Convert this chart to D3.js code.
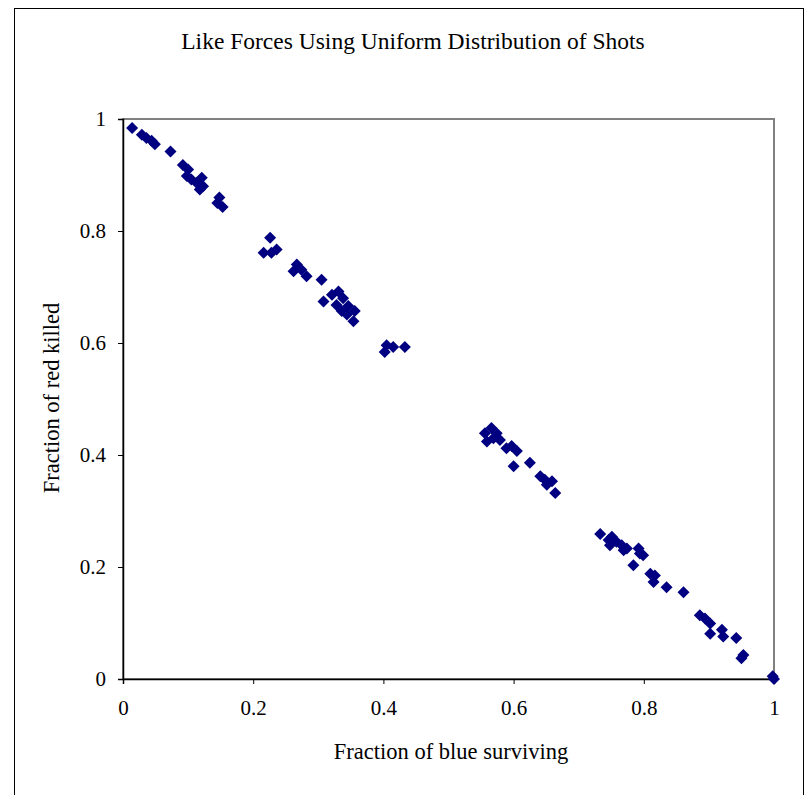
<!DOCTYPE html>
<html><head><meta charset="utf-8">
<script src="https://cdn.jsdelivr.net/npm/d3@7"></script>
<style>body{margin:0;background:#fff}svg text{font-family:"Liberation Serif","Times New Roman",serif}</style>
</head><body><svg id="c" width="804" height="795"></svg>
<script>
const title = "Like Forces Using Uniform Distribution of Shots";
const xLabel = "Fraction of blue surviving";
const yLabel = "Fraction of red killed";
const xTicks = [0, 0.2, 0.4, 0.6, 0.8, 1];
const yTicks = [0, 0.2, 0.4, 0.6, 0.8, 1];
const blueSurviving = [
  0.014, 0.029, 0.036, 0.044, 0.049, 0.073,
  0.092, 0.100, 0.098, 0.105, 0.113, 0.121, 0.123, 0.118,
  0.148, 0.145, 0.153,
  0.216, 0.226, 0.228, 0.236,
  0.267, 0.262, 0.274, 0.282, 0.305,
  0.308, 0.321, 0.331, 0.338, 0.328, 0.336, 0.344, 0.356, 0.354, 0.346,
  0.402, 0.405, 0.415, 0.433,
  0.556, 0.566, 0.574, 0.559, 0.569, 0.579, 0.589, 0.597, 0.605,
  0.600, 0.625, 0.641, 0.648, 0.659, 0.651, 0.664,
  0.733, 0.746, 0.751, 0.748, 0.758, 0.766, 0.774, 0.769,
  0.792, 0.799, 0.794, 0.784, 0.810, 0.817, 0.815, 0.835, 0.861,
  0.886, 0.894, 0.902, 0.902, 0.920, 0.922, 0.942, 0.953, 0.950,
  0.998, 1.000
];
const redKilled = [
  0.984, 0.972, 0.966, 0.961, 0.955, 0.942,
  0.918, 0.910, 0.898, 0.892, 0.886, 0.895, 0.880, 0.874,
  0.860, 0.850, 0.843,
  0.761, 0.788, 0.761, 0.767,
  0.740, 0.728, 0.731, 0.719, 0.713,
  0.674, 0.686, 0.692, 0.680, 0.668, 0.657, 0.651, 0.657, 0.639, 0.666,
  0.584, 0.596, 0.593, 0.593,
  0.439, 0.448, 0.439, 0.424, 0.430, 0.427, 0.412, 0.416, 0.407,
  0.380, 0.386, 0.362, 0.356, 0.353, 0.347, 0.332,
  0.259, 0.248, 0.254, 0.239, 0.245, 0.239, 0.233, 0.230,
  0.233, 0.221, 0.224, 0.203, 0.188, 0.185, 0.173, 0.164, 0.155,
  0.114, 0.108, 0.099, 0.081, 0.088, 0.076, 0.073, 0.043, 0.037,
  0.005, 0.000
];
const points = blueSurviving.map((v, i) => ({x: v, y: redKilled[i]}));

const svg = d3.select("#c");
// outer chart border
svg.append("rect").attr("x", 14.5).attr("y", 8.5).attr("width", 789).attr("height", 800)
  .attr("fill", "none").attr("stroke", "#000").attr("stroke-width", 1);

const L = 123, R = 774, T = 119, B = 679;
const x = d3.scaleLinear().domain([0, 1]).range([L, R]);
const y = d3.scaleLinear().domain([0, 1]).range([B, T]);

// plot area border (gray)
svg.append("rect").attr("x", L).attr("y", T).attr("width", R - L).attr("height", B - T)
  .attr("fill", "none").attr("stroke", "#808080").attr("stroke-width", 2);

const xAxis = svg.append("g").attr("transform", `translate(0,${B})`)
  .call(d3.axisBottom(x).tickValues(xTicks).tickFormat(d3.format("")).tickSize(5).tickPadding(16));
const yAxis = svg.append("g").attr("transform", `translate(${L},0)`)
  .call(d3.axisLeft(y).tickValues(yTicks).tickFormat(d3.format("")).tickSize(5).tickPadding(12));
[xAxis, yAxis].forEach(a => {
  a.select(".domain").attr("stroke", "#000").attr("stroke-width", 1.5);
  a.selectAll(".tick line").attr("stroke", "#000");
  a.selectAll(".tick text").attr("font-size", 21).attr("fill", "#000")
    .attr("font-family", "'Liberation Serif','Times New Roman',serif");
});

// markers: square diamonds
const r = 6;
const diamond = `M0,${-r}L${r},0L0,${r}L${-r},0Z`;
svg.append("g").selectAll("path").data(points).join("path")
  .attr("d", diamond)
  .attr("transform", d => `translate(${x(d.x)},${y(d.y)})`)
  .attr("fill", "#000080");

svg.append("text").attr("x", 413).attr("y", 49).attr("text-anchor", "middle")
  .attr("font-size", 23.5).text(title);
svg.append("text").attr("x", 451).attr("y", 759).attr("text-anchor", "middle")
  .attr("font-size", 22.5).text(xLabel);
svg.append("text").attr("transform", "translate(59,398) rotate(-90)").attr("text-anchor", "middle")
  .attr("font-size", 22.5).text(yLabel);
</script></body></html>
